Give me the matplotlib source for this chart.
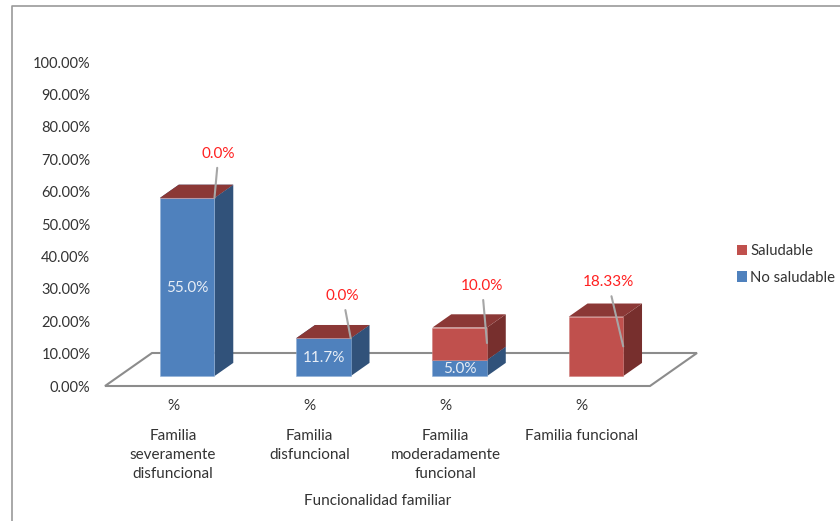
import matplotlib
matplotlib.use("Agg")
import matplotlib.pyplot as plt
from matplotlib.patches import Polygon, Patch
from matplotlib.lines import Line2D

categorias = ["Familia\nseveramente\ndisfuncional", "Familia\ndisfuncional",
              "Familia\nmoderadamente\nfuncional", "Familia funcional"]
no_saludable = [55.0, 11.7, 5.0, 0.0]
saludable = [0.0, 0.0, 10.0, 18.33]
etiq_no_saludable = ["55.0%", "11.7%", "5.0%", None]
etiq_saludable = ["0.0%", "0.0%", "10.0%", "18.33%"]
yticks = list(range(0, 101, 10))

AZUL = ("#4f81bd", "#31527a", "#3d5f8c")
ROJO = ("#c0504d", "#772f2d", "#8b3836")
GRIS = "#8c8c8c"
TEXTO = "#333333"

W, H = 840, 521
plt.rcParams["font.family"] = ["Lato", "DejaVu Sans"]
fig = plt.figure(figsize=(W / 100, H / 100), dpi=100)
ax = fig.add_axes([105 / W, 1 - 386 / H, 545 / W, 324 / H])
ax.set_xlim(-0.5, 3.5)
ax.set_ylim(0, 100)
for s in ax.spines.values():
    s.set_visible(False)
ax.patch.set_visible(False)

# desplazamiento oblicuo de la perspectiva (fondo del piso)
DX = 47 / 136.25
DY = 33 / 3.24
ANCHO = 0.4


def proy(x, y, d):
    return (x + d * DX, y + d * DY)


# piso del grafico
ax.add_patch(Polygon([proy(-0.5, 0, 0), proy(3.5, 0, 0), proy(3.5, 0, 1), proy(-0.5, 0, 1)],
                     closed=True, fc="white", ec=GRIS, lw=1.5, clip_on=False, zorder=1))


def caja(x, y0, y1, cols, z):
    a, b = x - ANCHO / 2, x + ANCHO / 2
    d0, d1 = 0.3, 0.7
    ax.add_patch(Polygon([proy(b, y0, d0), proy(b, y0, d1), proy(b, y1, d1), proy(b, y1, d0)],
                         closed=True, fc=cols[1], ec="none", clip_on=False, zorder=z))
    ax.add_patch(Polygon([proy(a, y1, d0), proy(b, y1, d0), proy(b, y1, d1), proy(a, y1, d1)],
                         closed=True, fc=cols[2], ec="none", clip_on=False, zorder=z))
    ax.add_patch(Polygon([proy(a, y0, d0), proy(b, y0, d0), proy(b, y1, d0), proy(a, y1, d0)],
                         closed=True, fc=cols[0], ec="#8fb0d6" if cols is AZUL else "#cf7f7c",
                         lw=0.4, clip_on=False, zorder=z + 0.1))


for i, (ns, sa) in enumerate(zip(no_saludable, saludable)):
    if ns > 0:
        caja(i, 0, ns, AZUL, 3)
    caja(i, ns, ns + sa, ROJO, 4)
    if etiq_no_saludable[i]:
        cx, cy = proy(i, ns / 2, 0.3)
        ax.text(cx, cy - 0.3, etiq_no_saludable[i], color="#e8eef6", fontsize=11,
                ha="center", va="center", zorder=6)

# etiquetas rojas con linea guia: (dx, dy) en pixeles desde el punto de la barra
guia = [(4, 44), (-8, 42), (-5, 57), (-15, 64)]
punta = [0.0, 0.0, 0.52, 0.5]
for i, (ns, sa) in enumerate(zip(no_saludable, saludable)):
    px = proy(i + ANCHO / 2, ns + sa * punta[i] if sa else ns, 0.3)
    ax.annotate(etiq_saludable[i], xy=px, xytext=guia[i], textcoords="offset pixels",
                color="#ff2020", fontsize=11, ha="center", va="center", zorder=7,
                arrowprops=dict(arrowstyle="-", color="#a6a6a6", lw=1.5, shrinkA=3, shrinkB=0))

ax.set_yticks(yticks)
ax.set_yticklabels([f"{v:.2f}%" for v in yticks], fontsize=10.5, color=TEXTO)
ax.set_xticks(range(len(categorias)))
ax.set_xticklabels(["%"] * len(categorias), fontsize=11, color=TEXTO)
ax.tick_params(axis="y", length=0, pad=10.5)
ax.tick_params(axis="x", length=0, pad=9.5)

# segundo nivel del eje de categorias
for i, c in enumerate(categorias):
    ax.annotate(c, xy=(i, 0), xycoords=ax.get_xaxis_transform(), xytext=(0, -42.5),
                textcoords="offset pixels", ha="center", va="top", fontsize=11,
                color=TEXTO, linespacing=1.46)

ax.set_xlabel("Funcionalidad familiar", fontsize=11, color=TEXTO)
ax.xaxis.set_label_coords(0.5, -108 / 324)

h = [Patch(fc=ROJO[0], label="Saludable"), Patch(fc=AZUL[0], label="No saludable")]
fig.legend(handles=h, loc="upper left", bbox_to_anchor=(734 / W, 1 - 241 / H), frameon=False,
           fontsize=10.7, labelcolor=TEXTO, handlelength=0.68, handleheight=0.68,
           handletextpad=0.2, labelspacing=0.85, borderpad=0.2, borderaxespad=0)

# marco exterior, abierto por la derecha y por abajo
fig.add_artist(Line2D([12 / W, 12 / W, 1], [0, 1 - 6 / H, 1 - 6 / H], color="#9a9a9a", lw=1.2))

fig.savefig("out.png", dpi=100)
